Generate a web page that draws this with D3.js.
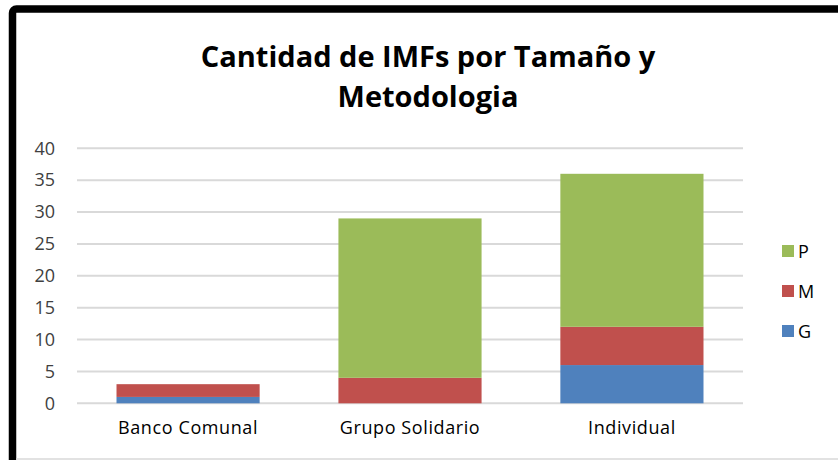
<!DOCTYPE html>
<html>
<head>
<meta charset="utf-8">
<script src="https://cdn.jsdelivr.net/npm/d3@7"></script>
<style>
  body { margin: 0; background: #fff; }
  svg { display: block; }
</style>
</head>
<body>
<div id="chart"></div>
<script>
const categories = ["Banco Comunal", "Grupo Solidario", "Individual"];
const seriesNames = ["G", "M", "P"];
const valuesG = [1, 0, 6];
const valuesM = [2, 4, 6];
const valuesP = [0, 25, 24];
const yTicks = [0, 5, 10, 15, 20, 25, 30, 35, 40];

const COLORS = { G: "#4f81bd", M: "#c0504d", P: "#9bbb59" };
const FONT = "'Open Sans', 'Liberation Sans', sans-serif";

const WIDTH = 838, HEIGHT = 460;
const plot = { left: 77, right: 743, top: 148.3, bottom: 403.3 };

var svg = d3.select("#chart").append("svg")
    .attr("width", WIDTH)
    .attr("height", HEIGHT);

// frame of the chart (cut off on the right and bottom)
svg.append("rect")
    .attr("x", 12.5).attr("y", 9)
    .attr("width", 900).attr("height", 520)
    .attr("rx", 4)
    .attr("fill", "#fff")
    .attr("stroke", "#000")
    .attr("stroke-width", 7.5);
svg.append("line")
    .attr("x1", 16).attr("x2", WIDTH)
    .attr("y1", 459).attr("y2", 459)
    .attr("stroke", "#d9d9d9").attr("stroke-width", 1.5);

// title
var title = svg.append("text")
    .attr("text-anchor", "middle")
    .attr("font-family", FONT)
    .attr("font-weight", "bold")
    .attr("font-size", 29)
    .attr("fill", "#000");
title.append("tspan").attr("x", 428).attr("y", 67).text("Cantidad de IMFs por Tamaño y");
title.append("tspan").attr("x", 428).attr("y", 107).text("Metodologia");

var table = categories.map((c, i) => ({ cat: c, G: valuesG[i], M: valuesM[i], P: valuesP[i] }));
var stacked = d3.stack().keys(seriesNames)(table);

var x = d3.scaleBand().domain(categories).range([plot.left, plot.right]).paddingInner(0.355).paddingOuter(0.178);
var y = d3.scaleLinear().domain([0, 40]).range([plot.bottom, plot.top]);

// gridlines
svg.append("g").selectAll("line")
    .data(yTicks)
    .join("line")
    .attr("x1", plot.left).attr("x2", plot.right)
    .attr("y1", d => y(d)).attr("y2", d => y(d))
    .attr("stroke", "#d9d9d9")
    .attr("stroke-width", 2);

// y axis labels
var yAxis = svg.append("g")
    .attr("transform", "translate(" + plot.left + ",0)")
    .call(d3.axisLeft(y).tickValues(yTicks).tickSize(0).tickPadding(22));
yAxis.select(".domain").remove();
yAxis.selectAll("text")
    .attr("font-family", FONT)
    .attr("font-size", 18)
    .attr("fill", "#404040");

// bars
svg.append("g").selectAll("g")
    .data(stacked)
    .join("g")
    .attr("fill", d => COLORS[d.key])
    .selectAll("rect")
    .data(d => d.filter(s => s[1] > s[0]))
    .join("rect")
    .attr("x", d => x(d.data.cat))
    .attr("width", x.bandwidth())
    .attr("y", d => y(d[1]))
    .attr("height", d => y(d[0]) - y(d[1]));

// x axis labels
var xAxis = svg.append("g")
    .attr("transform", "translate(0," + plot.bottom + ")")
    .call(d3.axisBottom(x).tickSize(0).tickPadding(18));
xAxis.select(".domain").remove();
xAxis.selectAll("text")
    .attr("font-family", FONT)
    .attr("font-size", 18)
    .attr("letter-spacing", 0.6)
    .attr("fill", "#000");

// legend
var legendOrder = ["P", "M", "G"];
var legend = svg.append("g").selectAll("g")
    .data(legendOrder)
    .join("g")
    .attr("transform", (d, i) => "translate(782," + (251 + i * 40) + ")");
legend.append("rect")
    .attr("x", 0).attr("y", -6)
    .attr("width", 12).attr("height", 12)
    .attr("fill", d => COLORS[d]);
legend.append("text")
    .attr("x", 16).attr("y", 6.5)
    .attr("font-family", FONT)
    .attr("font-size", 18)
    .attr("fill", "#000")
    .text(d => d);
</script>
</body>
</html>
